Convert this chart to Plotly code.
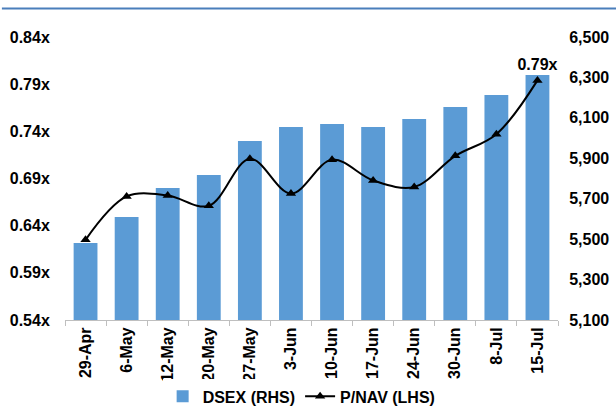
import plotly.graph_objects as go

dates = ["29-Apr", "6-May", "12-May", "20-May", "27-May", "3-Jun", "10-Jun",
         "17-Jun", "24-Jun", "30-Jun", "8-Jul", "15-Jul"]
dsex = [5481, 5610, 5753, 5817, 5986, 6055, 6070, 6055, 6094, 6154, 6213, 6312]
pnav = [0.625, 0.671, 0.672, 0.661, 0.711, 0.674, 0.710, 0.688, 0.681, 0.714, 0.737, 0.794]
pnav_labels = [""] * (len(pnav) - 1) + ["0.79x"]

FONT = "Liberation Sans, Arial, sans-serif"
TF = dict(family=FONT, size=16, color="black", weight="bold")

fig = go.Figure()
fig.add_trace(go.Bar(
    x=dates, y=dsex, name="DSEX (RHS)", yaxis="y",
    marker=dict(color="#5B9BD5", line=dict(width=0)), width=0.58,
))
fig.add_trace(go.Scatter(
    x=dates, y=pnav, name="P/NAV (LHS)", yaxis="y2",
    mode="lines+markers+text", text=pnav_labels, textposition="top center",
    textfont=TF,
    line=dict(color="black", width=2, shape="spline", smoothing=1),
    marker=dict(symbol="triangle-up", size=9, color="black"),
))

fig.update_layout(
    width=616, height=407,
    margin=dict(l=65, r=58, t=37, b=87, autoexpand=False),
    paper_bgcolor="white", plot_bgcolor="white",
    font=TF,
    showlegend=True,
    legend=dict(orientation="h", x=0.48, xanchor="center", y=-0.27, yanchor="middle",
                font=TF, traceorder="normal", itemwidth=30),
    xaxis=dict(type="category", tickangle=-90, showgrid=False, automargin=False,
               range=[-0.5, len(dates) - 0.5], autorange=False,
               showline=True, linecolor="#BFBFBF", linewidth=1,
               ticks="outside", tickson="boundaries", ticklen=5, tickcolor="#BFBFBF",
               tickfont=TF),
    yaxis=dict(range=[5100, 6500], dtick=200, tick0=5100, tickformat=",d",
               side="right", showgrid=False, zeroline=False, showline=False, automargin=False,
               ticks="outside", ticklen=7, tickcolor="rgba(0,0,0,0)",
               tickfont=TF),
    yaxis2=dict(range=[0.54, 0.84], dtick=0.05, tick0=0.54, tickformat=".2f", ticksuffix="x",
                overlaying="y", side="left", showgrid=False, zeroline=False, showline=False,
                automargin=False,
                ticks="outside", ticklen=11, tickcolor="rgba(0,0,0,0)",
                tickfont=TF),
    shapes=[dict(type="line", xref="paper", yref="paper",
                 x0=-0.128, x1=1.118, y0=1.1007, y1=1.1007,
                 line=dict(color="#4A7EBB", width=2))],
)

fig.write_html("out.html", config=dict(displayModeBar=False),
               post_script="document.body.style.margin='0px';document.body.style.overflow='hidden';")
